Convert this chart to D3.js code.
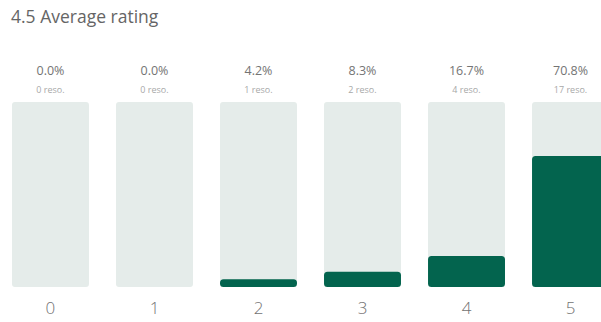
<!DOCTYPE html>
<html>
<head>
<meta charset="utf-8">
<script src="https://cdn.jsdelivr.net/npm/d3@7"></script>
<style>
  html, body { margin: 0; padding: 0; background: #ffffff; overflow: hidden; }
  svg { display: block; font-family: "Open Sans", "Noto Sans", sans-serif; }
</style>
</head>
<body>
<svg id="chart" width="601" height="322"></svg>
<script>
// Rating scale and survey results
const ratings = ["0", "1", "2", "3", "4", "5"];
const responses = [0, 0, 1, 2, 4, 17];
const percents = [0.0, 0.0, 4.2, 8.3, 16.7, 70.8];
const averageRating = 4.5;

const svg = d3.select("#chart");

const x = d3.scaleBand()
  .domain(ratings)
  .range([12, 609])
  .paddingInner(0.26)
  .paddingOuter(0);

const y = d3.scaleLinear()
  .domain([0, 100])
  .range([287, 102]);

// Title
svg.append("text")
  .attr("x", 11)
  .attr("y", 23)
  .attr("font-size", 17.5)
  .attr("fill", "#656565")
  .text(averageRating.toFixed(1) + " Average rating");

const rows = ratings.map((r, i) => ({ rating: r, count: responses[i], pct: percents[i] }));

const g = svg.append("g");

// Background tracks (full 100%)
g.selectAll("rect.track")
  .data(rows)
  .join("rect")
  .attr("class", "track")
  .attr("x", d => x(d.rating))
  .attr("y", y(100))
  .attr("width", x.bandwidth())
  .attr("height", y(0) - y(100))
  .attr("rx", 3)
  .attr("fill", "#e5ecea");

// Value bars
g.selectAll("rect.value")
  .data(rows.filter(d => d.pct > 0))
  .join("rect")
  .attr("class", "value")
  .attr("x", d => x(d.rating))
  .attr("y", d => y(d.pct))
  .attr("width", x.bandwidth())
  .attr("height", d => y(0) - y(d.pct))
  .attr("rx", d => Math.min(3.5, (y(0) - y(d.pct)) / 2))
  .attr("fill", "#03644e");

// Percentage labels
g.selectAll("text.pct")
  .data(rows)
  .join("text")
  .attr("class", "pct")
  .attr("x", d => x(d.rating) + x.bandwidth() / 2)
  .attr("y", 75)
  .attr("text-anchor", "middle")
  .attr("font-size", 12.5)
  .attr("fill", "#747474")
  .text(d => d.pct.toFixed(1) + "%");

// Response counts
g.selectAll("text.count")
  .data(rows)
  .join("text")
  .attr("class", "count")
  .attr("x", d => x(d.rating) + x.bandwidth() / 2)
  .attr("y", 92.5)
  .attr("text-anchor", "middle")
  .attr("font-size", 9)
  .attr("fill", "#a8a8a8")
  .text(d => d.count + " reso.");

// Rating axis labels
const axis = d3.axisBottom(x).tickSize(0).tickPadding(0);
const ax = svg.append("g")
  .attr("transform", "translate(0,302)")
  .call(axis);
ax.select(".domain").remove();
ax.selectAll("text")
  .attr("font-family", "\"Open Sans\", \"Noto Sans\", sans-serif")
  .attr("font-size", 17)
  .attr("font-weight", 300)
  .attr("fill", "#727272")
  .attr("dy", "0.71em");
</script>
</body>
</html>
